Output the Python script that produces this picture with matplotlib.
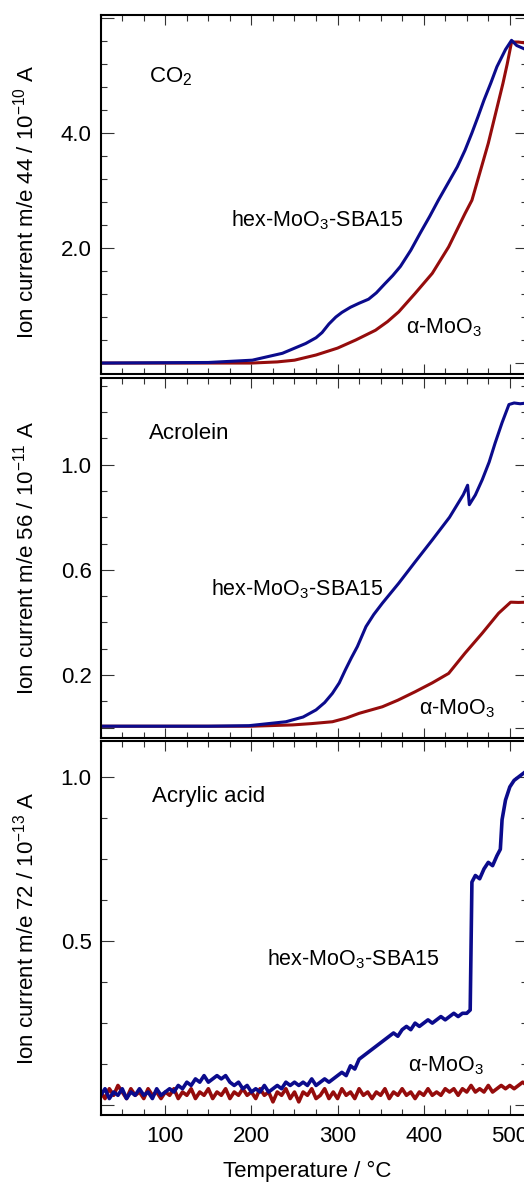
import matplotlib
matplotlib.use('Agg')
import matplotlib.pyplot as plt
from matplotlib.ticker import MultipleLocator

plt.rcParams['font.family'] = ['Liberation Sans', 'DejaVu Sans']
plt.rcParams['mathtext.fontset'] = 'custom'
plt.rcParams['mathtext.rm'] = 'Liberation Sans'
plt.rcParams['mathtext.it'] = 'Liberation Sans:italic'
plt.rcParams['mathtext.bf'] = 'Liberation Sans:bold'
plt.rcParams['font.size'] = 16

BLUE = '#0b0b8c'
RED = '#950c0c'

# --- CO2, m/e 44 (10^-10 A) ---
co2_hex_T = [25, 150, 201, 236, 263, 275, 282, 290, 298, 305, 315, 325, 336,
             345, 355, 364, 373, 385, 396, 407, 417, 428, 439, 448, 456, 463,
             470, 478, 485, 495, 502, 508, 514, 520]
co2_hex_I = [0.0, 0.01, 0.05, 0.17, 0.34, 0.44, 0.53, 0.68, 0.80, 0.88, 0.97,
             1.04, 1.11, 1.22, 1.38, 1.52, 1.68, 1.96, 2.26, 2.55, 2.83, 3.12,
             3.41, 3.70, 4.00, 4.28, 4.57, 4.87, 5.15, 5.45, 5.61, 5.52, 5.48,
             5.44]
co2_alpha_T = [25, 200, 230, 250, 275, 300, 321, 344, 358, 371, 390, 410, 429,
               448, 456, 466, 475, 484, 492, 497, 502, 510, 520]
co2_alpha_I = [0.0, 0.0, 0.02, 0.05, 0.14, 0.26, 0.40, 0.57, 0.72, 0.89, 1.21,
               1.56, 2.02, 2.60, 2.83, 3.35, 3.82, 4.37, 4.86, 5.20, 5.58,
               5.58, 5.56]

# --- Acrolein, m/e 56 (10^-11 A) ---
acro_hex_T = [25, 150, 197, 240, 260, 275, 285, 294, 302, 309, 316, 323, 333,
              342, 352, 371, 390, 410, 430, 446, 451, 453, 460, 468, 476, 483,
              491, 499, 505, 512, 520]
acro_hex_I = [0.005, 0.005, 0.007, 0.022, 0.04, 0.067, 0.095, 0.13, 0.17,
              0.219, 0.265, 0.308, 0.384, 0.43, 0.473, 0.549, 0.63, 0.714,
              0.80, 0.886, 0.922, 0.848, 0.885, 0.943, 1.01, 1.083, 1.16,
              1.229, 1.235, 1.232, 1.235]
acro_alpha_T = [25, 200, 248, 270, 294, 310, 325, 352, 370, 390, 410, 429, 448,
                468, 487, 501, 510, 520]
acro_alpha_I = [0.005, 0.005, 0.01, 0.015, 0.022, 0.036, 0.054, 0.079, 0.104,
                0.136, 0.17, 0.206, 0.283, 0.359, 0.435, 0.477, 0.476, 0.477]

# --- Acrylic acid, m/e 72 (10^-13 A), read every 5 degC ---
acryl_T = list(range(25, 521, 5))
acryl_alpha_I = [
    0.04, 0.02, 0.05, 0.03, 0.06, 0.04, 0.02, 0.05, 0.03, 0.04,
    0.02, 0.05, 0.03, 0.04, 0.02, 0.04, 0.03, 0.05, 0.02, 0.04,
    0.03, 0.05, 0.02, 0.04, 0.03, 0.05, 0.02, 0.04, 0.03, 0.05,
    0.02, 0.04, 0.03, 0.05, 0.03, 0.04, 0.02, 0.05, 0.03, 0.04,
    0.01, 0.04, 0.03, 0.05, 0.02, 0.04, 0.01, 0.04, 0.03, 0.05,
    0.02, 0.03, 0.05, 0.02, 0.04, 0.02, 0.05, 0.03, 0.04, 0.02,
    0.05, 0.03, 0.04, 0.02, 0.04, 0.03, 0.05, 0.02, 0.04, 0.03,
    0.05, 0.03, 0.04, 0.02, 0.04, 0.03, 0.05, 0.03, 0.04, 0.03,
    0.05, 0.04, 0.05, 0.03, 0.05, 0.04, 0.06, 0.04, 0.05, 0.04,
    0.06, 0.04, 0.05, 0.06, 0.05, 0.06, 0.05, 0.06, 0.07, 0.06,
]
acryl_hex_T = list(range(25, 451, 5)) + [454, 456, 460, 465, 470, 475, 480, 485,
                                        489, 491, 495, 500, 505, 510, 515, 520]
acryl_hex_I = [
    0.03, 0.05, 0.02, 0.04, 0.03, 0.05, 0.02, 0.04, 0.03, 0.05,
    0.03, 0.04, 0.02, 0.05, 0.03, 0.04, 0.05, 0.04, 0.06, 0.05,
    0.07, 0.06, 0.08, 0.07, 0.09, 0.07, 0.08, 0.09, 0.08, 0.09,
    0.07, 0.06, 0.07, 0.05, 0.06, 0.04, 0.05, 0.04, 0.06, 0.04,
    0.05, 0.06, 0.05, 0.07, 0.06, 0.07, 0.06, 0.07, 0.06, 0.08,
    0.06, 0.07, 0.08, 0.07, 0.08, 0.09, 0.10, 0.09, 0.12, 0.11,
    0.14, 0.15, 0.16, 0.17, 0.18, 0.19, 0.20, 0.21, 0.22, 0.21,
    0.23, 0.24, 0.23, 0.25, 0.24, 0.25, 0.26, 0.25, 0.26, 0.27,
    0.26, 0.27, 0.28, 0.27, 0.28, 0.28,
    0.29, 0.68, 0.70, 0.69, 0.72, 0.74, 0.73, 0.76,
    0.78, 0.87, 0.93, 0.97, 0.99, 1.00, 1.01, 1.02,
]

fig = plt.figure(figsize=(5.24, 11.82), dpi=100)
left, width = 0.1922, 0.8136
ax1 = fig.add_axes([left, 0.6836, width, 0.3037])
ax2 = fig.add_axes([left, 0.3756, width, 0.3046])
ax3 = fig.add_axes([left, 0.0567, width, 0.3164])


def style(ax, ylim, major, labels, minor):
    ax.set_xlim(25, 520)
    ax.set_ylim(*ylim)
    ax.xaxis.set_major_locator(MultipleLocator(100))
    ax.xaxis.set_minor_locator(MultipleLocator(25))
    ax.set_yticks(major, labels)
    ax.yaxis.set_minor_locator(MultipleLocator(minor))
    ax.tick_params(which='both', direction='in', top=True, right=True,
                   width=0.8, color='#333333', labelsize=16)
    ax.tick_params(axis='y', which='major', length=9, pad=6.5)
    ax.tick_params(axis='x', which='major', length=7.5, pad=8)
    ax.tick_params(which='minor', length=4)
    for s in ax.spines.values():
        s.set_linewidth(1.5)


# CO2
ax1.plot(co2_alpha_T, co2_alpha_I, color=RED, lw=2.2)
ax1.plot(co2_hex_T, co2_hex_I, color=BLUE, lw=2.2)
style(ax1, (-0.19, 6.05), [0, 2, 4, 6], ['', '2.0', '4.0', ''], 0.4)
ax1.tick_params(labelbottom=False)
ax1.set_ylabel('Ion current m/e 44 / 10$^{-10}$ A', fontsize=16)
ax1.yaxis.set_label_coords(-0.147, 0.478)
ax1.text(81.5, 4.87, 'CO$_2$', fontsize=16)
ax1.text(176, 2.37, 'hex-MoO$_3$-SBA15', fontsize=15.5)
ax1.text(379.5, 0.52, 'α-MoO$_3$', fontsize=15.5)

# Acrolein
ax2.plot(acro_alpha_T, acro_alpha_I, color=RED, lw=2.2)
ax2.plot(acro_hex_T, acro_hex_I, color=BLUE, lw=2.2)
style(ax2, (-0.04, 1.33), [0.0, 0.2, 0.6, 1.0], ['', '0.2', '0.6', '1.0'], 0.1)
ax2.tick_params(labelbottom=False)
ax2.set_ylabel('Ion current m/e 56 / 10$^{-11}$ A', fontsize=16)
ax2.yaxis.set_label_coords(-0.147, 0.5)
ax2.text(81.5, 1.098, 'Acrolein', fontsize=16)
ax2.text(153, 0.501, 'hex-MoO$_3$-SBA15', fontsize=15.5)
ax2.text(395, 0.051, 'α-MoO$_3$', fontsize=15.5)

# Acrylic acid
ax3.plot(acryl_T, acryl_alpha_I, color=RED, lw=2.6)
ax3.plot(acryl_hex_T, acryl_hex_I, color=BLUE, lw=2.6)
style(ax3, (-0.03, 1.11), [0.0, 0.5, 1.0], ['', '0.5', '1.0'], 0.125)
ax3.set_ylabel('Ion current m/e 72 / 10$^{-13}$ A', fontsize=16)
ax3.yaxis.set_label_coords(-0.147, 0.5)
ax3.set_xlabel('Temperature / °C', fontsize=16)
ax3.xaxis.set_label_coords(0.485, -0.124)
ax3.text(84.6, 0.924, 'Acrylic acid', fontsize=16)
ax3.text(218.5, 0.426, 'hex-MoO$_3$-SBA15', fontsize=15.5)
ax3.text(382, 0.104, 'α-MoO$_3$', fontsize=15.5)

fig.savefig('out.png', dpi=100)
